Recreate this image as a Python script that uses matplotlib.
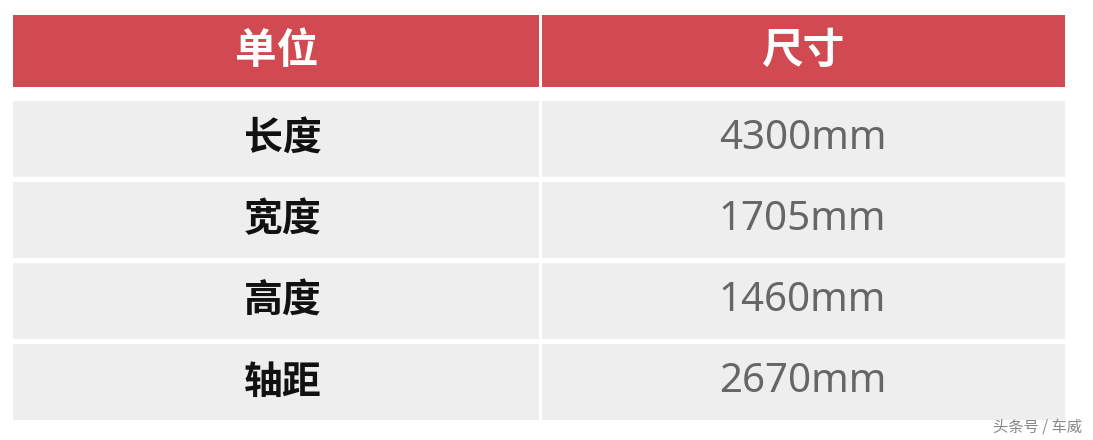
import matplotlib.pyplot as plt
from matplotlib.patches import Rectangle

plt.rcParams['font.family'] = ['Noto Sans CJK SC', 'DejaVu Sans']

headers = ['单位', '尺寸']
labels = ['长度', '宽度', '高度', '轴距']
values = ['4300mm', '1705mm', '1460mm', '2670mm']
watermark = '头条号 / 车威'

W, H = 1093, 440
fig = plt.figure(figsize=(W / 100, H / 100), dpi=100)
ax = fig.add_axes([0, 0, 1, 1])
ax.set_xlim(0, W)
ax.set_ylim(H, 0)
ax.axis('off')

x0, xm, x1 = 13, 540, 1065
gap = 3
red = '#d14a52'
grey = '#eeeeee'

# header row
ax.add_patch(Rectangle((x0, 15), xm - x0 - gap / 2, 72, color=red, lw=0))
ax.add_patch(Rectangle((xm + gap / 2, 15), x1 - xm - gap / 2, 72, color=red, lw=0))
ax.text((x0 + xm) / 2, 51, headers[0], color='white', fontsize=30, fontweight='bold', ha='center', va='center')
ax.text((xm + x1) / 2, 51, headers[1], color='white', fontsize=30, fontweight='bold', ha='center', va='center')

# body rows
top, rh, step = 101, 76, 81
for i, (lab, val) in enumerate(zip(labels, values)):
    y = top + i * step
    ax.add_patch(Rectangle((x0, y), xm - x0 - gap / 2, rh, color=grey, lw=0))
    ax.add_patch(Rectangle((xm + gap / 2, y), x1 - xm - gap / 2, rh, color=grey, lw=0))
    ax.text((x0 + xm) / 2 + 6, y + rh / 2, lab, color='#111111', fontsize=28, fontweight='bold', ha='center', va='center')
    ax.text((xm + x1) / 2, y + rh / 2, val, color='#666666', fontsize=29, ha='center', va='center',
            family=['Noto Sans', 'DejaVu Sans'])

ax.text(1082, 427, watermark, color='#888888', fontsize=11, ha='right', va='center')

fig.savefig('out.png', dpi=100, facecolor='white')
